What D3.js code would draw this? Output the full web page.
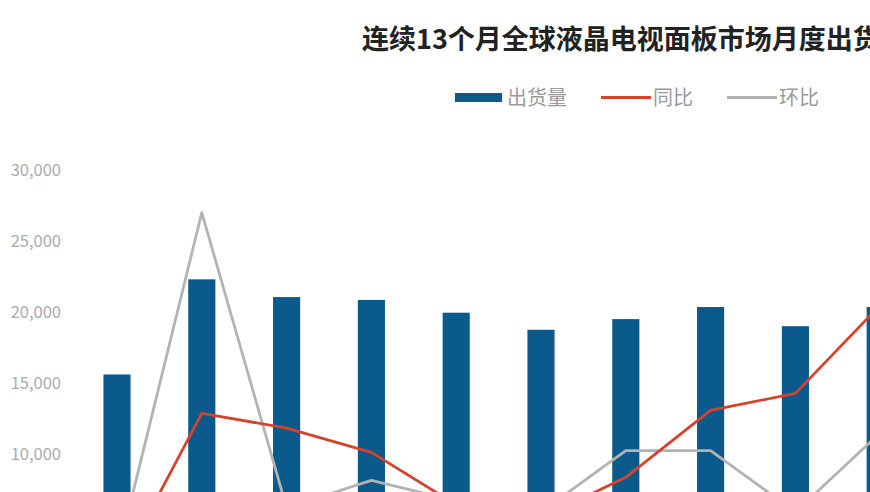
<!DOCTYPE html>
<html><head><meta charset="utf-8">
<script src="https://cdn.jsdelivr.net/npm/d3@7"></script>
<style>
body{margin:0;background:#fff;overflow:hidden}
text{font-family:"Noto Sans CJK SC","Noto Sans",sans-serif}
</style>
</head><body>
<svg id="c" width="870" height="492"></svg>
<script>
// visible months (the rest of the 13-month series is cropped out of the picture)
const months = ["M1","M2","M3","M4","M5","M6","M7","M8","M9","M10"];
const shipments = [15600, 22300, 21050, 20850, 19950, 18750, 19500, 20350, 19000, 20350];
const yoy = [-16.3, 10.0, 7.6, 3.6, -5.0, -7.2, -0.5, 10.5, 13.3, 27.8];
const mom = [-13.7, 43.0, -5.5, -1.0, -4.4, -6.2, 3.9, 3.9, -6.2, 6.8];
const leftTicks = [10000, 15000, 20000, 25000, 30000];
const title = "连续13个月全球液晶电视面板市场月度出货量";
const legendItems = [
  {label:"出货量", type:"bar", color:"#0a5a8b"},
  {label:"同比", type:"line", color:"#d5432c"},
  {label:"环比", type:"line", color:"#b3b3b3"}
];

const svg = d3.select("#c");
const BAR = "#0a5a8b", RED = "#d5432c", GRAY = "#b3b3b3";

const y = d3.scaleLinear().domain([0, 30000]).range([596, 170]);
const yR = d3.scaleLinear().domain([-20, 50]).range([596, 170]);
const x = d3.scaleBand().domain(months).range([74.6, 922.6]).paddingInner(0.68).paddingOuter(0.34);

// title
svg.append("text").attr("x", 362).attr("y", 49)
  .attr("font-size", 27).attr("font-weight", 700).attr("fill", "#222")
  .text(title);

// legend
const lg = svg.append("g");
const lx = [455, 601, 727];
legendItems.forEach((d, i) => {
  if (d.type === "bar") {
    lg.append("rect").attr("x", lx[i]).attr("y", 93).attr("width", 47).attr("height", 9).attr("fill", d.color);
  } else {
    lg.append("line").attr("x1", lx[i]).attr("x2", lx[i] + 50).attr("y1", 97.5).attr("y2", 97.5)
      .attr("stroke", d.color).attr("stroke-width", 3);
  }
  lg.append("text").attr("x", lx[i] + (d.type === "bar" ? 52 : 52)).attr("y", 97.5).attr("dy", "0.36em")
    .attr("font-size", 20).attr("fill", "#9a9a9a").text(d.label);
});

// left axis
const ax = svg.append("g").attr("transform", "translate(61,0)")
  .call(d3.axisLeft(y).tickValues(leftTicks).tickFormat(d3.format(",")).tickSize(0).tickPadding(0));
ax.select(".domain").remove();
ax.selectAll("text").attr("font-size", 16.5).attr("fill", "#ababab")
  .attr("font-family", "'Liberation Sans',Arial,sans-serif");

// bars
svg.append("g").selectAll("rect").data(shipments).join("rect")
  .attr("x", (d, i) => x(months[i]))
  .attr("width", x.bandwidth())
  .attr("y", d => y(d))
  .attr("height", d => y(0) - y(d))
  .attr("fill", BAR);

const cx = i => x(months[i]) + x.bandwidth() / 2;
const line = d3.line().x((d, i) => cx(i)).y(d => yR(d));

svg.append("path").datum(mom).attr("d", line)
  .attr("fill", "none").attr("stroke", GRAY).attr("stroke-width", 2.8).attr("stroke-linejoin", "round");
svg.append("path").datum(yoy).attr("d", line)
  .attr("fill", "none").attr("stroke", RED).attr("stroke-width", 2.8).attr("stroke-linejoin", "round");
</script>
</body></html>
